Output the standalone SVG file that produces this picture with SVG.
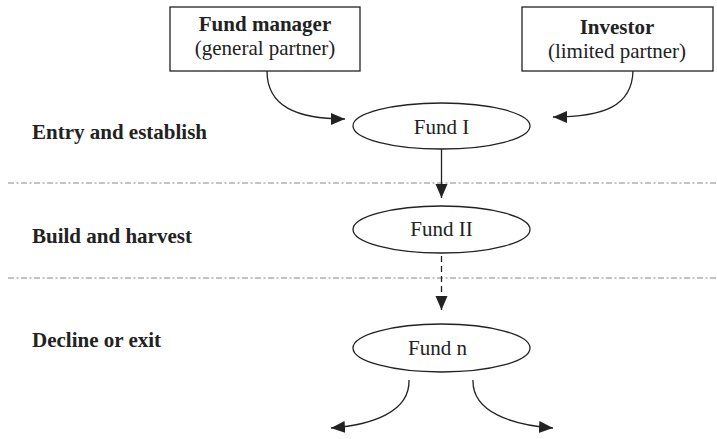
<svg xmlns="http://www.w3.org/2000/svg" width="717" height="439" viewBox="0 0 717 439">
<style>
.box{fill:#fff;stroke:#222;stroke-width:1.3}
.ell{fill:#fff;stroke:#222;stroke-width:1.3}
.t{font-family:"Liberation Serif","Times New Roman",serif;font-size:21px;fill:#222}
.b{font-weight:bold}
.c{text-anchor:middle}
.conn{fill:none;stroke:#222;stroke-width:1.3}
.sep{stroke:#888;stroke-width:1.2;stroke-dasharray:6 2.5 2 2.5}
</style>
<defs>
<marker id="ah" markerUnits="userSpaceOnUse" markerWidth="16" markerHeight="14" refX="14" refY="6" orient="auto">
<path d="M0,0 L14,6 L0,12 z" fill="#222"/>
</marker>
</defs>
<g id="separators">
<line class="sep" x1="8" y1="183" x2="717" y2="183"/>
<line class="sep" x1="8" y1="278" x2="717" y2="278"/>
</g>
<g id="phase-labels">
<text class="t b" x="32" y="139">Entry and establish</text>
<text class="t b" x="32" y="243">Build and harvest</text>
<text class="t b" x="32" y="347">Decline or exit</text>
</g>
<g id="connectors">
<path class="conn" d="M267,71 C267,106 296,119 345,119" marker-end="url(#ah)"/>
<path class="conn" d="M633,71 C632,106 604,117 553,117" marker-end="url(#ah)"/>
<path class="conn" d="M441.5,149 L441.5,198" marker-end="url(#ah)"/>
<path class="conn" d="M441.5,256 L441.5,310" stroke-dasharray="6 4" marker-end="url(#ah)"/>
<path class="conn" d="M409,380 C410,412 372,425 331,428" marker-end="url(#ah)"/>
<path class="conn" d="M473,380 C472,412 512,425 553,428" marker-end="url(#ah)"/>
</g>
<g id="fund-manager">
<rect class="box" x="170" y="7" width="190" height="64"/>
<text class="t b c" x="265" y="31">Fund manager</text>
<text class="t c" x="265" y="55">(general partner)</text>
</g>
<g id="investor">
<rect class="box" x="522" y="7" width="191" height="64"/>
<text class="t b c" x="617" y="34">Investor</text>
<text class="t c" x="617" y="58">(limited partner)</text>
</g>
<g id="fund-1">
<ellipse class="ell" cx="441.5" cy="126" rx="88.5" ry="23"/>
<text class="t c" x="441.5" y="134">Fund I</text>
</g>
<g id="fund-2">
<ellipse class="ell" cx="441.5" cy="229.5" rx="88.5" ry="23.5"/>
<text class="t c" x="441.5" y="236">Fund II</text>
</g>
<g id="fund-n">
<ellipse class="ell" cx="441.5" cy="348" rx="88.5" ry="24"/>
<text class="t c" x="437.5" y="355">Fund n</text>
</g>
</svg>
